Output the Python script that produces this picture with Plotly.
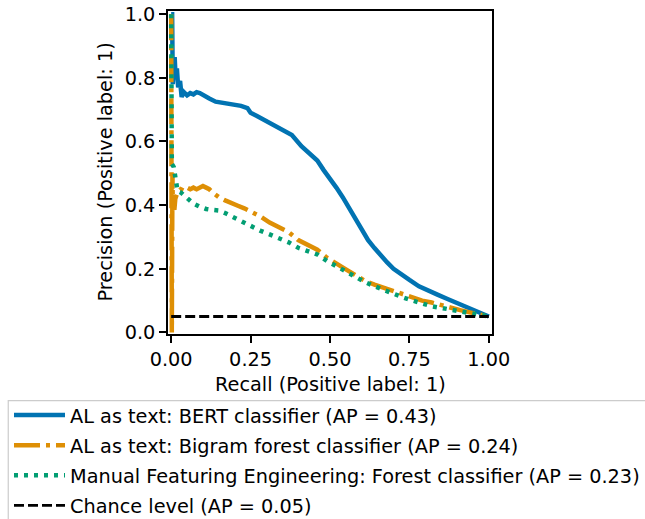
import plotly.graph_objects as go

# ---- data ----
bert_recall = [0.0, 0.003, 0.005, 0.008, 0.011, 0.014, 0.018, 0.022, 0.028, 0.033, 0.04, 0.05, 0.06, 0.07,
               0.08, 0.09, 0.10, 0.12, 0.14, 0.16, 0.18, 0.20, 0.22, 0.24, 0.25, 0.27, 0.30, 0.33, 0.35,
               0.38, 0.41, 0.44, 0.46, 0.48, 0.50, 0.52, 0.54, 0.56, 0.58, 0.60, 0.62, 0.64, 0.66, 0.68,
               0.70, 0.72, 0.75, 0.78, 0.81, 0.84, 0.87, 0.90, 0.93, 0.96, 0.98, 1.0]
bert_precision = [1.0, 1.0, 0.78, 0.84, 0.865, 0.80, 0.83, 0.77, 0.79, 0.74, 0.755, 0.745, 0.752, 0.748,
                  0.755, 0.752, 0.745, 0.735, 0.725, 0.722, 0.716, 0.715, 0.712, 0.705, 0.69, 0.68, 0.664,
                  0.648, 0.64, 0.62, 0.585, 0.56, 0.54, 0.51, 0.485, 0.455, 0.425, 0.39, 0.355, 0.32, 0.29,
                  0.265, 0.24, 0.22, 0.20, 0.185, 0.165, 0.145, 0.13, 0.118, 0.105, 0.092, 0.08, 0.068,
                  0.058, 0.05]

bigram_recall = [0.0, 0.001, 0.002, 0.003, 0.004, 0.005, 0.007, 0.01, 0.013, 0.02, 0.03, 0.04, 0.05, 0.06,
                 0.07, 0.08, 0.09, 0.10, 0.11, 0.12, 0.13, 0.14, 0.15, 0.17, 0.19, 0.21, 0.23, 0.25, 0.28,
                 0.31, 0.34, 0.37, 0.40, 0.43, 0.46, 0.49, 0.52, 0.55, 0.58, 0.61, 0.64, 0.67, 0.70, 0.73,
                 0.76, 0.79, 0.82, 0.85, 0.88, 0.91, 0.94, 0.97, 1.0]
bigram_precision = [1.0, 0.0, 0.0, 0.25, 0.50, 0.40, 0.40, 0.385, 0.42, 0.44, 0.45, 0.445, 0.455, 0.45,
                    0.455, 0.45, 0.455, 0.46, 0.455, 0.45, 0.44, 0.43, 0.425, 0.415, 0.405, 0.398, 0.39,
                    0.38, 0.365, 0.345, 0.33, 0.315, 0.29, 0.275, 0.26, 0.235, 0.215, 0.198, 0.18, 0.162,
                    0.15, 0.14, 0.13, 0.122, 0.11, 0.10, 0.094, 0.085, 0.077, 0.07, 0.063, 0.056, 0.05]

manual_recall = [0.0, 0.002, 0.008, 0.015, 0.02, 0.03, 0.05, 0.07, 0.09, 0.11, 0.13, 0.15, 0.17, 0.19,
                 0.21, 0.23, 0.25, 0.28, 0.31, 0.34, 0.37, 0.40, 0.43, 0.46, 0.49, 0.52, 0.55, 0.58, 0.61,
                 0.64, 0.67, 0.70, 0.73, 0.76, 0.79, 0.82, 0.85, 0.88, 0.91, 0.94, 0.97, 1.0]
manual_precision = [1.0, 0.53, 0.52, 0.48, 0.445, 0.44, 0.42, 0.405, 0.395, 0.388, 0.385, 0.383, 0.375,
                    0.365, 0.355, 0.343, 0.333, 0.32, 0.308, 0.297, 0.283, 0.266, 0.255, 0.245, 0.225,
                    0.208, 0.19, 0.175, 0.158, 0.145, 0.133, 0.12, 0.11, 0.10, 0.09, 0.082, 0.077, 0.071,
                    0.066, 0.06, 0.055, 0.05]

chance_recall = [0.0, 1.0]
chance_precision = [0.05, 0.05]

names = [
    "AL as text: BERT classifier (AP = 0.43)",
    "AL as text: Bigram forest classifier (AP = 0.24)",
    "Manual Featuring Engineering: Forest classifier (AP = 0.23)",
    "Chance level (AP = 0.05)",
]
x_title = "Recall (Positive label: 1)"
y_title = "Precision (Positive label: 1)"
x_ticks = [0.0, 0.25, 0.5, 0.75, 1.0]
x_tick_labels = ["0.00", "0.25", "0.50", "0.75", "1.00"]
y_ticks = [0.0, 0.2, 0.4, 0.6, 0.8, 1.0]
y_tick_labels = ["0.0", "0.2", "0.4", "0.6", "0.8", "1.0"]

FONT = "DejaVu Sans"
FS = 19.3
FS_LEG = 19.3
W, H = 645, 519
ML, MR, MT, MB = 168, 152.5, 11, 184.7
PW, PH = W - ML - MR, H - MT - MB


def px_to_paper_x(px):
    return (px - ML) / PW


def px_to_paper_y(py):
    return (H - MB - py) / PH


fig = go.Figure()
fig.add_trace(go.Scatter(x=bert_recall, y=bert_precision, mode="lines", name=names[0],
                         legendgroup="a", line=dict(color="#0173b2", width=4.5)))
fig.add_trace(go.Scatter(x=bigram_recall, y=bigram_precision, mode="lines", name=names[1],
                         legendgroup="b", line=dict(color="#de8f05", width=4.5, dash="26px,6px,4px,6px")))
fig.add_trace(go.Scatter(x=manual_recall, y=manual_precision, mode="lines", name=names[2],
                         legendgroup="c", line=dict(color="#029e73", width=4.5, dash="4px,6px")))
fig.add_trace(go.Scatter(x=chance_recall, y=chance_precision, mode="lines", name=names[3],
                         legendgroup="d", line=dict(color="black", width=2.8, dash="10px,4px")))

axis_common = dict(
    showgrid=False, zeroline=False, showline=True, mirror=True, automargin=False,
    linecolor="black", linewidth=1.5, ticks="outside", ticklen=7, tickwidth=1.5, tickcolor="black",
    tickfont=dict(family=FONT, size=FS, color="black"), ticklabeloverflow="allow",
)

# legend frame (light grey box)
fig.add_shape(type="rect", xref="paper", yref="paper",
              x0=px_to_paper_x(8), x1=px_to_paper_x(W + 40),
              y0=px_to_paper_y(H + 40), y1=px_to_paper_y(401),
              line=dict(color="#cccccc", width=1.2), fillcolor="white", layer="below")

fig.add_annotation(text=x_title, xref="paper", yref="paper", x=0.5, y=0, xanchor="center",
                   yanchor="middle", yshift=-50, showarrow=False,
                   font=dict(family=FONT, size=FS, color="black"))
fig.add_annotation(text=y_title, xref="paper", yref="paper", x=0, y=0.5, xanchor="center",
                   yanchor="middle", xshift=-63, textangle=-90, showarrow=False,
                   font=dict(family=FONT, size=FS, color="black"))

fig.update_layout(
    width=W, height=H,
    margin=dict(l=ML, r=MR, t=MT, b=MB, autoexpand=False),
    paper_bgcolor="white", plot_bgcolor="white",
    font=dict(family=FONT, size=FS, color="black"),
    xaxis=dict(axis_common, range=[-0.01, 1.01], tickvals=x_ticks, ticktext=x_tick_labels),
    yaxis=dict(axis_common, range=[-0.005, 1.01], tickvals=y_ticks, ticktext=y_tick_labels),
    legend=dict(xref="container", yref="container", x=9 / W, y=1 - 396 / H, xanchor="left",
                yanchor="top", bgcolor="rgba(0,0,0,0)", borderwidth=0,
                font=dict(family=FONT, size=FS_LEG, color="black"),
                tracegroupgap=2, traceorder="grouped", itemwidth=51),
    showlegend=True,
)

fig.write_html("out.html", config={"displayModeBar": False},
               post_script="document.body.style.margin='0px';")
